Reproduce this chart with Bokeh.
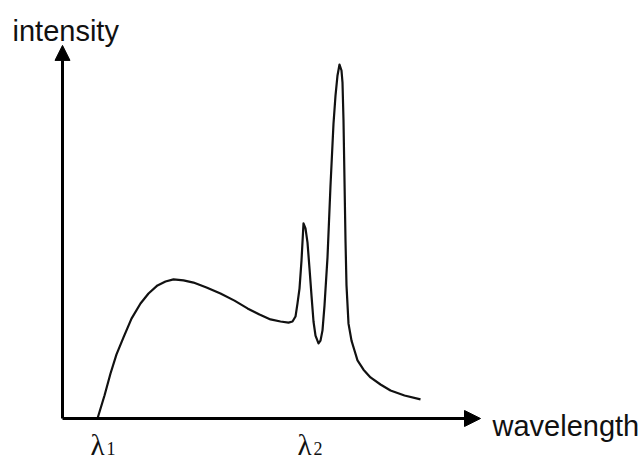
from bokeh.plotting import figure
from bokeh.models import Range1d, Arrow, NormalHead
from bokeh.core.properties import value
from bokeh.embed import file_html
from bokeh.resources import INLINE

# Spectrum (wavelength in arbitrary units, intensity in % of max peak)
wavelength = [35, 42, 48, 54, 61, 69, 78, 86, 95, 103, 111, 121, 131, 144, 158, 172, 185, 197,
              208, 218, 226, 230, 233, 235, 237, 239, 241, 243, 245, 247, 249, 251, 253, 256,
              258, 260, 262, 265, 268, 271, 273, 275, 277, 279, 280, 281, 282, 283, 284, 286,
              289, 292, 295, 301, 308, 318, 328, 342, 358]
intensity = [0.0, 6.5, 12.7, 18.1, 22.9, 28.2, 32.5, 35.3, 37.6, 38.7, 39.3, 39.0, 38.4, 37.0,
             35.3, 33.3, 31.1, 29.4, 28.0, 27.4, 27.1, 27.4, 28.8, 32.5, 36.7, 44.6, 55.1, 53.7,
             49.7, 42.4, 34.7, 27.4, 23.4, 21.2, 22.0, 24.9, 31.9, 45.5, 65.8, 83.3, 91.2, 96.9,
             100.0, 98.3, 94.9, 84.2, 67.2, 50.3, 37.6, 26.8, 22.0, 19.2, 16.4, 13.8, 11.6, 9.6,
             7.9, 6.5, 5.4]

x_axis_end = 418
y_axis_end = 105.4

lam_labels = ["λ", "λ"]
lam_subs = ["1", "2"]
lam_x = [28, 235]

p = figure(width=641, height=461, output_backend="svg", toolbar_location=None,
           x_range=Range1d(-62, 579), y_range=Range1d(-12.147, 118.079),
           min_border=0, outline_line_color=None)
p.axis.visible = False
p.grid.visible = False
p.background_fill_color = "white"
p.border_fill_color = "white"

# axes with arrows
p.add_layout(Arrow(x_start=0, y_start=0, x_end=x_axis_end, y_end=0, line_width=3,
                   line_color="black",
                   end=NormalHead(size=16, fill_color="black", line_color="black", line_width=1)))
p.add_layout(Arrow(x_start=0, y_start=0, x_end=0, y_end=y_axis_end, line_width=3,
                   line_color="black",
                   end=NormalHead(size=15, fill_color="black", line_color="black", line_width=1)))

p.line(wavelength, intensity, line_color="#111111", line_width=2.2, line_join="round")

p.text(x=[-50], y=[109.6], text=["intensity"], text_font=value("Liberation Sans"),
       text_font_size="29px", text_baseline="alphabetic", text_align="left", text_color="#111111")
p.text(x=[430], y=[-2.0], text=["wavelength"], text_font=value("Liberation Sans"),
       text_font_size="29px", text_baseline="alphabetic", text_align="left", text_color="#111111")

p.text(x=lam_x, y=[-7.6] * 2, text=lam_labels, text_font=value("Liberation Serif"),
       text_font_size="29px", text_baseline="alphabetic", text_align="left", text_color="#111111")
p.text(x=lam_x, y=[-8.4] * 2, text=lam_subs, text_font=value("Liberation Serif"),
       text_font_size="18px", text_baseline="alphabetic", text_align="left", text_color="#111111",
       x_offset=16)

open("out.html", "w").write(file_html(p, INLINE))
